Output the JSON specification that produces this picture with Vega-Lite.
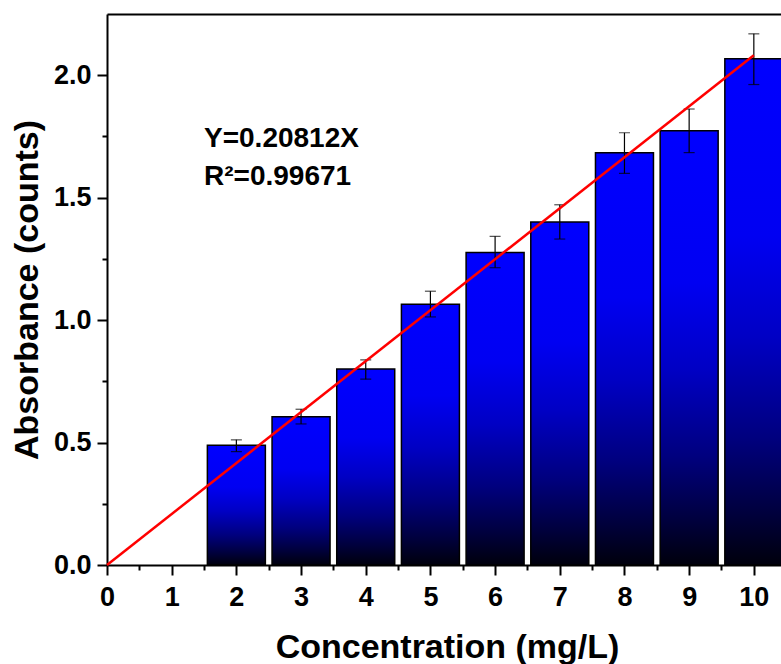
{
  "$schema": "https://vega.github.io/schema/vega-lite/v6.json",
  "width": 674,
  "height": 551,
  "autosize": {"type": "none"},
  "padding": {"left": 107, "top": 14, "right": 0, "bottom": 99},
  "background": "white",
  "config": {
    "view": {"stroke": null},
    "font": "Liberation Sans",
    "axis": {
      "labelFont": "Liberation Sans",
      "labelFontWeight": "bold",
      "labelColor": "black",
      "titleFont": "Liberation Sans",
      "titleFontWeight": "bold",
      "titleColor": "black",
      "domainColor": "black",
      "tickColor": "black",
      "grid": false
    }
  },
  "datasets": {
    "bars": [
      {"conc": 2, "abs": 0.489, "lo": 0.463, "hi": 0.511},
      {"conc": 3, "abs": 0.605, "lo": 0.576, "hi": 0.636},
      {"conc": 4, "abs": 0.800, "lo": 0.759, "hi": 0.838},
      {"conc": 5, "abs": 1.065, "lo": 1.013, "hi": 1.118},
      {"conc": 6, "abs": 1.276, "lo": 1.214, "hi": 1.342},
      {"conc": 7, "abs": 1.401, "lo": 1.331, "hi": 1.471},
      {"conc": 8, "abs": 1.683, "lo": 1.599, "hi": 1.765},
      {"conc": 9, "abs": 1.773, "lo": 1.684, "hi": 1.862},
      {"conc": 10, "abs": 2.067, "lo": 1.962, "hi": 2.169}
    ],
    "fit": [
      {"conc": 0, "fit": 0},
      {"conc": 10, "fit": 2.0812}
    ],
    "notes": [
      {"conc": 1.5, "abs": 1.706, "label": "Y=0.20812X"},
      {"conc": 1.5, "abs": 1.551, "label": "R²=0.99671"}
    ]
  },
  "resolve": {"axis": {"x": "independent", "y": "independent"}},
  "layer": [
    {
      "data": {"name": "bars"},
      "mark": {
        "type": "bar",
        "size": 58,
        "stroke": "black",
        "strokeWidth": 1.5,
        "fill": {
          "gradient": "linear",
          "x1": 0, "y1": 0, "x2": 0, "y2": 1,
          "stops": [
            {"offset": 0, "color": "#0000ff"},
            {"offset": 0.35, "color": "#0000f2"},
            {"offset": 0.55, "color": "#0000c4"},
            {"offset": 0.75, "color": "#00007e"},
            {"offset": 0.9, "color": "#00003c"},
            {"offset": 1, "color": "#00000c"}
          ]
        }
      },
      "encoding": {
        "x": {
          "field": "conc", "type": "quantitative",
          "scale": {"domain": [0, 10.42], "nice": false, "zero": false, "padding": 0},
          "axis": {
            "orient": "bottom",
            "values": [0, 1, 2, 3, 4, 5, 6, 7, 8, 9, 10],
            "title": "Concentration (mg/L)",
            "titleFontSize": 34,
            "titleX": 340,
            "titleY": 92,
            "titleBaseline": "alphabetic",
            "titleAlign": "center",
            "labelFontSize": 27,
            "labelPadding": 9,
            "tickSize": 10,
            "tickWidth": 2,
            "domainWidth": 2,
            "labelFlush": false,
            "labelOverlap": false
          }
        },
        "y": {
          "field": "abs", "type": "quantitative",
          "scale": {"domain": [0, 2.25], "nice": false, "padding": 0},
          "axis": {
            "orient": "left",
            "values": [0, 0.5, 1, 1.5, 2],
            "format": ".1f",
            "title": "Absorbance (counts)",
            "titleFontSize": 34,
            "titleAngle": -90,
            "titleX": -70,
            "titleY": 275.5,
            "titleBaseline": "alphabetic",
            "titleAlign": "center",
            "labelFontSize": 27,
            "labelPadding": 6,
            "tickSize": 10,
            "tickWidth": 2,
            "domainWidth": 2,
            "labelFlush": false,
            "labelOverlap": false
          }
        }
      }
    },
    {
      "data": {"name": "bars"},
      "mark": {"type": "rule", "color": "black", "strokeWidth": 1.2},
      "encoding": {
        "x": {
          "field": "conc", "type": "quantitative",
          "axis": {
            "orient": "bottom",
            "values": [0.5, 1.5, 2.5, 3.5, 4.5, 5.5, 6.5, 7.5, 8.5, 9.5],
            "labels": false, "domain": false, "title": null,
            "tickSize": 5, "tickWidth": 2
          }
        },
        "y": {
          "field": "lo", "type": "quantitative",
          "axis": {
            "orient": "left",
            "values": [0.25, 0.75, 1.25, 1.75],
            "labels": false, "domain": false, "title": null,
            "tickSize": 5, "tickWidth": 2
          }
        },
        "y2": {"field": "hi"}
      }
    },
    {
      "data": {"name": "bars"},
      "mark": {"type": "tick", "orient": "horizontal", "color": "black", "size": 11, "thickness": 1.2},
      "encoding": {
        "x": {"field": "conc", "type": "quantitative", "axis": null},
        "y": {"field": "lo", "type": "quantitative", "axis": null}
      }
    },
    {
      "data": {"name": "bars"},
      "mark": {"type": "tick", "orient": "horizontal", "color": "black", "size": 11, "thickness": 1.2},
      "encoding": {
        "x": {"field": "conc", "type": "quantitative", "axis": null},
        "y": {"field": "hi", "type": "quantitative", "axis": null}
      }
    },
    {
      "data": {"name": "fit"},
      "mark": {"type": "line", "color": "#ff0000", "strokeWidth": 2.5},
      "encoding": {
        "x": {
          "field": "conc", "type": "quantitative",
          "axis": {
            "orient": "top", "labels": false, "ticks": false,
            "title": null, "domain": true, "domainWidth": 2
          }
        },
        "y": {"field": "fit", "type": "quantitative", "axis": null}
      }
    },
    {
      "data": {"name": "notes"},
      "mark": {
        "type": "text", "align": "left", "baseline": "alphabetic",
        "font": "Liberation Sans", "fontWeight": "bold", "fontSize": 28, "color": "black"
      },
      "encoding": {
        "x": {"field": "conc", "type": "quantitative", "axis": null},
        "y": {"field": "abs", "type": "quantitative", "axis": null},
        "text": {"field": "label"}
      }
    }
  ]
}
